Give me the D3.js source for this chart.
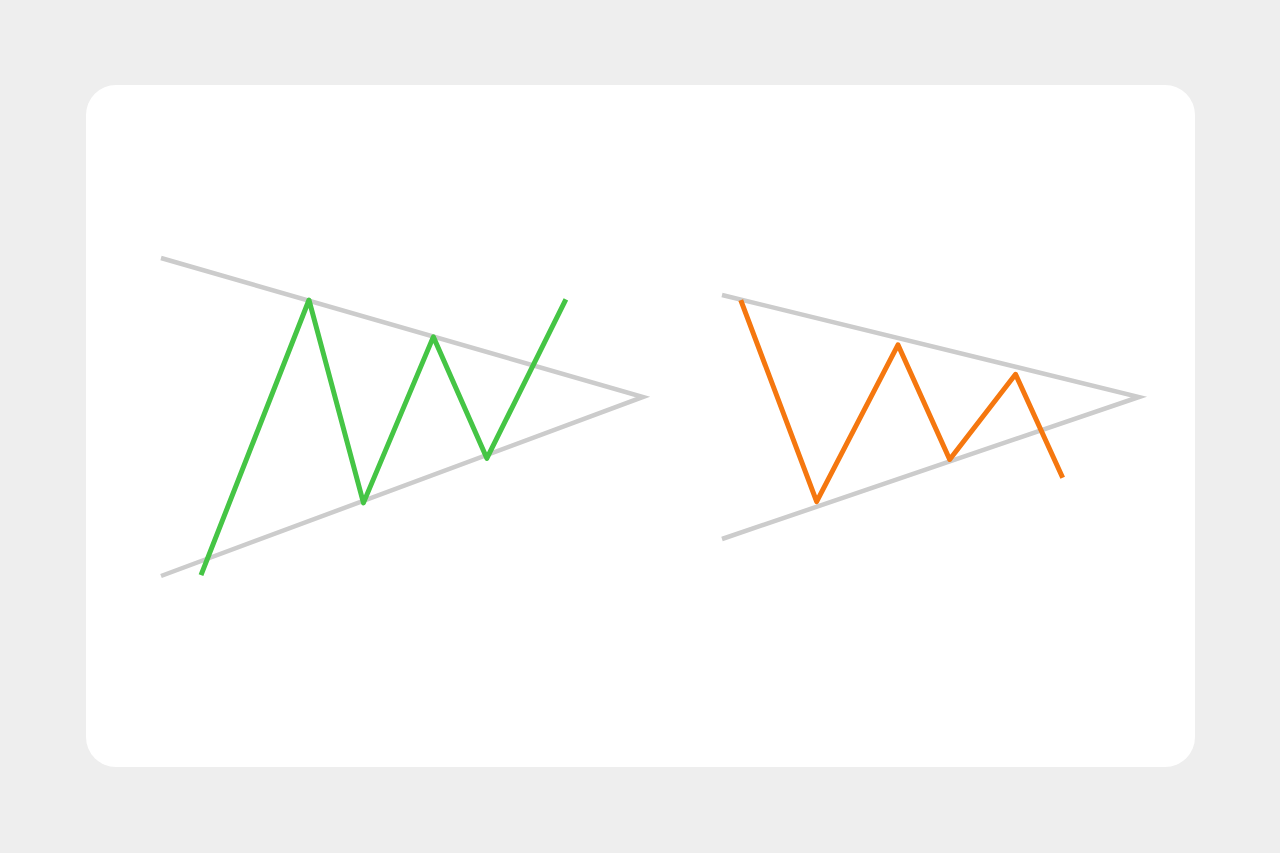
<!DOCTYPE html>
<html><head><meta charset="utf-8">
<script src="https://cdn.jsdelivr.net/npm/d3@7"></script>
<style>html,body{margin:0;padding:0;background:#eeeeee;}svg{display:block;}</style>
</head><body>
<svg id="c" width="1280" height="853"></svg>
<script>
// Left panel: symmetrical triangle with bullish breakout (time index 0..100, price 0..100)
const leftUpper = [[0, 100], [100, 56.3]];
const leftLower = [[0, 0], [100, 56.3]];
const leftPrice = [[8.3, 0.3], [30.7, 86.8], [42.0, 23.0], [56.5, 75.2], [67.6, 37.0], [84.0, 87.0]];
// Right panel: symmetrical triangle with bearish breakout
const rightUpper = [[0, 100], [100, 58.2]];
const rightLower = [[0, 0], [100, 58.2]];
const rightPrice = [[4.5, 97.9], [22.7, 15.3], [42.2, 79.6], [54.6, 32.6], [70.4, 67.5], [81.7, 25.1]];

const svg = d3.select("#c");
svg.append("rect").attr("x", 86).attr("y", 85).attr("width", 1109).attr("height", 682)
  .attr("rx", 30).attr("ry", 30).attr("fill", "#ffffff");

function panel(xRange, yRange, upper, lower, price, color) {
  const x = d3.scaleLinear().domain([0, 100]).range(xRange);
  const y = d3.scaleLinear().domain([0, 100]).range(yRange);
  const line = d3.line().x(d => x(d[0])).y(d => y(d[1]));
  const g = svg.append("g");
  // upper trendline to apex, then back along the lower trendline
  const triangle = upper.concat(lower.slice().reverse().slice(1));
  g.append("path").attr("d", line(triangle))
    .attr("fill", "none").attr("stroke", "#cccccc").attr("stroke-width", 4.5)
    .attr("stroke-linejoin", "miter").attr("stroke-miterlimit", 10);
  g.append("path").attr("d", line(price)).attr("fill", "none")
    .attr("stroke", color).attr("stroke-width", 5).attr("stroke-linejoin", "round");
}
panel([161, 643], [576, 258], leftUpper, leftLower, leftPrice, "#45c545");
panel([722, 1139], [539, 295], rightUpper, rightLower, rightPrice, "#f5770f");
</script>
</body></html>
